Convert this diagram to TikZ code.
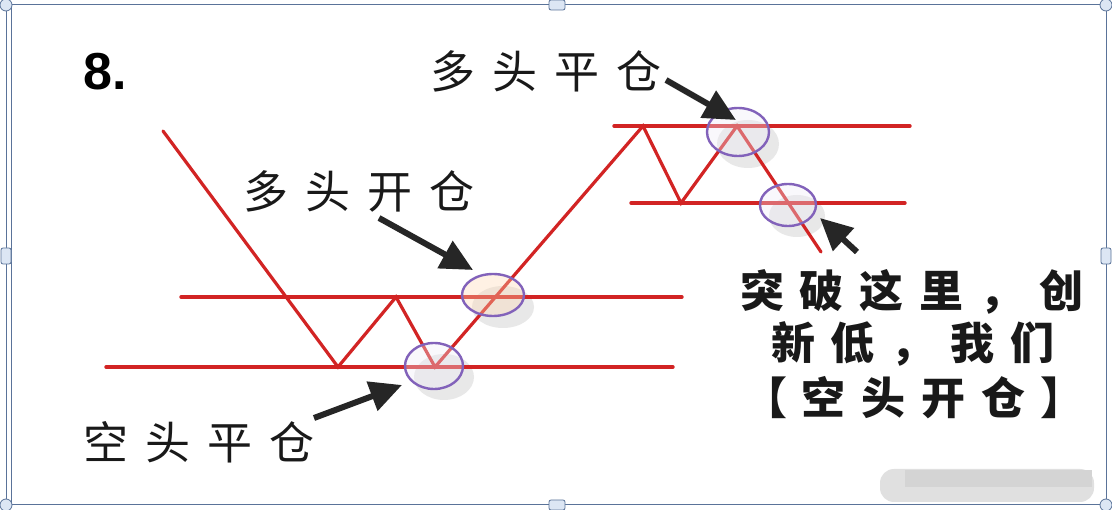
\documentclass[tikz,border=0pt]{standalone}
\usepackage{fontspec}
\setmainfont{Liberation Sans}
\newfontfamily\cjk{Noto Sans CJK SC}
\usetikzlibrary{arrows.meta,shapes.geometric}
\definecolor{linered}{HTML}{D22424}
\definecolor{ringpurple}{HTML}{8262BA}
\definecolor{framec}{HTML}{5A7399}
\definecolor{handlefill}{HTML}{DCE6F4}
\newcommand\gA{\hspace{17pt}}
\newcommand\gB{\hspace{16pt}}
\begin{document}
\begin{tikzpicture}[x=1pt,y=-1pt,
 price/.style={draw=linered,line width=3.2pt,line join=miter,line cap=round},
 level/.style={draw=linered,line width=3.4pt,line cap=round},
 ring/.style={ellipse,draw=ringpurple,line width=2.4pt,inner sep=0pt},
 ringshadow/.style={ellipse,fill=black!20,opacity=0.45,inner sep=0pt},
 bigarrow/.style={draw=black!85,line width=6pt,-{Triangle[length=32pt,width=30pt]}},
 cjklabel/.style={inner sep=0pt,font=\cjk\fontsize{45}{48}\selectfont,text=black!90},
 cjkbold/.style={inner sep=0pt,font=\cjk\bfseries\fontsize{44}{48}\selectfont,text=black!90},
 handle/.style={draw=framec,fill=handlefill,line width=0.8pt,rounded corners=2pt}
]
\useasboundingbox (0,0) rectangle (1112,510);
\fill[white] (0,0) rectangle (1112,510);
% frame
\draw[framec,line width=1pt] (6,5) -- (1106,5) -- (1106,505) -- (6,505) -- cycle;
\draw[framec,line width=1pt] (11,5) -- (11,505);
\node[handle,minimum width=16pt,minimum height=10pt] (ht) at (557,5) {};
\node[handle,minimum width=16pt,minimum height=10pt] (hb) at (557,505) {};
\node[handle,minimum width=10pt,minimum height=16pt] (hl) at (6,256) {};
\node[handle,minimum width=10pt,minimum height=16pt] (hr) at (1106,256) {};
\node[circle,draw=framec,fill=handlefill,line width=0.8pt,minimum size=12pt] (c1) at (6,5) {};
\node[circle,draw=framec,fill=handlefill,line width=0.8pt,minimum size=12pt] (c2) at (1106,5) {};
\node[circle,draw=framec,fill=handlefill,line width=0.8pt,minimum size=12pt] (c3) at (6,505) {};
\node[circle,draw=framec,fill=handlefill,line width=0.8pt,minimum size=12pt] (c4) at (1106,505) {};
% watermark
\fill[black!12,rounded corners=14pt] (880,469) rectangle (1094,502);
\fill[black!17] (905,470) rectangle (1092,487);
% ring shadows
\node[ringshadow,minimum width=60pt,minimum height=46pt] (s1) at (444,377) {};
\node[ringshadow,minimum width=62pt,minimum height=42pt] (s2) at (503,307) {};
\node[ringshadow,minimum width=62pt,minimum height=48pt] (s3) at (748,144) {};
\node[ringshadow,minimum width=56pt,minimum height=42pt] (s4) at (797,216) {};
% levels
\coordinate (L1a) at (106,367); \coordinate (L1b) at (673,367);
\coordinate (L2a) at (181,297); \coordinate (L2b) at (682,297);
\coordinate (L3a) at (614,126); \coordinate (L3b) at (910,126);
\coordinate (L4a) at (631,203); \coordinate (L4b) at (905,203);
\draw[level] (L1a) -- (L1b);
\draw[level] (L2a) -- (L2b);
\draw[level] (L3a) -- (L3b);
\draw[level] (L4a) -- (L4b);
% price path
\coordinate (p0) at (163,131);
\coordinate (p1) at (338,367);
\coordinate (p2) at (396,297);
\coordinate (p3) at (435,367);
\coordinate (p4) at (643,126);
\coordinate (p5) at (681,203);
\coordinate (p6) at (737,126);
\coordinate (p7) at (821,252);
\draw[price] (p0) -- (p1) -- (p2) -- (p3) -- (p4) -- (p5) -- (p6) -- (p7);
% rings
\node[ring,minimum width=58pt,minimum height=46pt,fill=ringpurple!12,fill opacity=0.35] (r1) at (434,366) {};
\node[ring,minimum width=62pt,minimum height=42pt,fill=orange!30,fill opacity=0.35] (r2) at (493,295) {};
\node[ring,minimum width=62pt,minimum height=48pt,fill=ringpurple!12,fill opacity=0.35] (r3) at (738,132) {};
\node[ring,minimum width=56pt,minimum height=42pt,fill=ringpurple!12,fill opacity=0.35] (r4) at (788,205) {};
% labels
\node[font=\bfseries\fontsize{52}{56}\selectfont,inner sep=0pt] (num) at (105,72) {8.};
\node[cjklabel] (t1) at (359,191) {多\gA 头\gA 开\gA 仓};
\node[cjklabel] (t2) at (546,71) {多\gA 头\gA 平\gA 仓};
\node[cjklabel] (t3) at (199,442) {空\gA 头\gA 平\gA 仓};
\node[cjkbold] (t4) at (912,292) {突\gB 破\gB 这\gB 里\gB ，\gB 创};
\node[cjkbold] (t5) at (913,344) {新\gB 低\gB ，\gB 我\gB 们};
\node[cjkbold] (t6) at (914,398) {【\hspace{15pt}空\gB 头\gB 开\gB 仓\hspace{15pt}】};
% arrows
\coordinate (a1s) at (379,218); \coordinate (a1e) at (473,270);
\coordinate (a2s) at (666,80);  \coordinate (a2e) at (736,120);
\coordinate (a3s) at (314,418); \coordinate (a3e) at (402,385);
\coordinate (a4s) at (857,252); \coordinate (a4e) at (820,218);
\draw[bigarrow] (a1s) -- (a1e);
\draw[bigarrow] (a2s) -- (a2e);
\draw[bigarrow] (a3s) -- (a3e);
\draw[bigarrow] (a4s) -- (a4e);
\end{tikzpicture}
\end{document}
